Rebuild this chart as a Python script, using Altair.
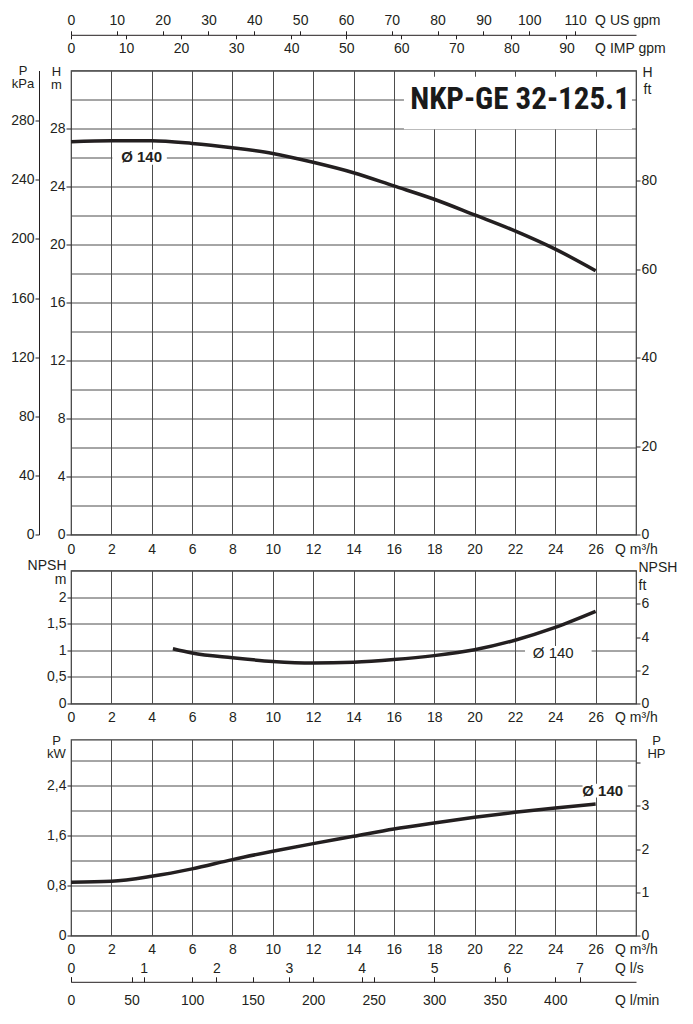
import altair as alt
import pandas as pd

# ---------------- data ----------------
Q_H = [0, 2, 4, 6, 8, 10, 12, 14, 16, 18, 20, 22, 24, 26]
HEAD_M = [27.08, 27.15, 27.15, 26.97, 26.67, 26.28, 25.67, 24.95, 24.04, 23.12, 22.04, 20.94, 19.68, 18.19]

Q_NPSH = [5.05, 6, 8, 10, 12, 14, 16, 18, 20, 22, 24, 26]
NPSH_M = [1.03, 0.95, 0.86, 0.79, 0.76, 0.775, 0.825, 0.90, 1.01, 1.19, 1.43, 1.73]

Q_P = [0, 2, 4, 6, 8, 10, 12, 14, 16, 18, 20, 22, 24, 26]
POWER_KW = [0.853, 0.869, 0.949, 1.067, 1.216, 1.349, 1.472, 1.589, 1.707, 1.803, 1.893, 1.973, 2.043, 2.107]

Q_LABELS = [0, 2, 4, 6, 8, 10, 12, 14, 16, 18, 20, 22, 24, 26]
Q_GRID = [0, 2, 4, 6, 8, 10, 12, 14, 16, 18, 20, 22, 24, 26, 28]
H_LABELS = [0, 4, 8, 12, 16, 20, 24, 28]
H_GRID = [0, 2, 4, 6, 8, 10, 12, 14, 16, 18, 20, 22, 24, 26, 28, 30, 32]
KPA_LABELS = [0, 40, 80, 120, 160, 200, 240, 280]
HFT_LABELS = [0, 20, 40, 60, 80]
NPSH_LABELS = [0, 0.5, 1, 1.5, 2]
NPSH_GRID = [0, 0.5, 1, 1.5, 2, 2.5]
NPSH_FT_LABELS = [0, 2, 4, 6]
KW_LABELS = [0, 0.8, 1.6, 2.4]
KW_GRID = [0, 0.4, 0.8, 1.2, 1.6, 2.0, 2.4, 2.8]
HP_TICKS = [0, 1, 2, 3, 4]
US_GPM = [0, 10, 20, 30, 40, 50, 60, 70, 80, 90, 100, 110]
IMP_GPM = [0, 10, 20, 30, 40, 50, 60, 70, 80, 90]
L_S = [0, 1, 2, 3, 4, 5, 6, 7]
L_MIN = [0, 50, 100, 150, 200, 250, 300, 350, 400]

MODEL = "NKP-GE 32-125.1"
CURVE_LABEL = "Ø 140"

# axis ranges
Q_MAX = 28
H_MAX = 32
KPA_MAX = H_MAX * 9.81
HFT_MAX = H_MAX * 3.281
NPSH_MAX = 2.5
NPSH_FT_MAX = 8.0
KW_MAX = 3.14
HP_MAX = 4.54
US_MAX = Q_MAX / 0.2271
IMP_MAX = Q_MAX / 0.2728
LS_MAX = Q_MAX / 3.6
LMIN_MAX = Q_MAX * 1000 / 60

# annotation boxes (data units)
TITLE_BOX = dict(q1=16.5, q2=27.8, v1=27.95, v2=31.57, q=22.25, v=30.0)
H_LBL = dict(q1=2.05, q2=4.75, v1=25.5, v2=26.55, q=3.5, v=26.05)
N_LBL = dict(q1=22.5, q2=25.8, v1=0.88, v2=1.08, q=23.9, v=0.95)
P_LBL = dict(q1=25.35, q2=27.6, v1=2.21, v2=2.43, q=26.35, v=2.32)

# ---------------- styling ----------------
FONT = "Liberation Sans"
INK = "#231f20"
GRID = "#4d4d4d"
W = 565
H1, H2, H3 = 464, 133, 196


def ax(**kw):
    base = dict(labelFont=FONT, labelFontSize=14, labelColor=INK, titleFont=FONT,
                titleFontSize=14, titleColor=INK, titleFontWeight="normal",
                grid=False, domain=False, ticks=False, tickSize=0, labelPadding=2,
                labelFlush=False, labelOverlap=False, tickColor=INK, domainColor=INK,
                tickWidth=1, domainWidth=1, title=None)
    base.update(kw)
    return alt.Axis(**base)


def grid_axis(orient, values):
    return alt.Axis(orient=orient, values=values, grid=True, gridColor=GRID, gridWidth=1,
                    labels=False, ticks=False, domain=False, title=None)


def sc(hi):
    return alt.Scale(domain=[0, hi], nice=False, zero=False)


def dummy_axis_layer(values, channel, hi, axis, other_hi):
    df = pd.DataFrame({"v": values, "w": [0] * len(values)})
    if channel == "x":
        enc = dict(x=alt.X("v:Q", scale=sc(hi), axis=axis),
                   y=alt.Y("w:Q", scale=sc(other_hi), axis=None))
    else:
        enc = dict(y=alt.Y("v:Q", scale=sc(hi), axis=axis),
                   x=alt.X("w:Q", scale=sc(other_hi), axis=None))
    return alt.Chart(df).mark_point(opacity=0).encode(**enc)


def label_layers(box, vmax, bold, size=15):
    df = pd.DataFrame([dict(box, t=CURVE_LABEL)])
    rect = alt.Chart(df).mark_rect(color="white").encode(
        x=alt.X("q1:Q", scale=sc(Q_MAX), axis=None), x2="q2:Q",
        y=alt.Y("v1:Q", scale=sc(vmax), axis=None), y2="v2:Q")
    txt = alt.Chart(df).mark_text(font=FONT, fontSize=size, color=INK,
                                  fontWeight="bold" if bold else "normal",
                                  align="center", baseline="middle").encode(
        x=alt.X("q:Q", scale=sc(Q_MAX), axis=None),
        y=alt.Y("v:Q", scale=sc(vmax), axis=None), text="t:N")
    return [rect, txt]


def grid_layer(df, vmax, ygrid):
    return alt.Chart(df).mark_line(opacity=0).encode(
        x=alt.X("q:Q", scale=sc(Q_MAX), axis=grid_axis("bottom", Q_GRID)),
        y=alt.Y("v:Q", scale=sc(vmax), axis=grid_axis("left", ygrid)))


def qaxis(pad):
    return ax(orient="bottom", values=Q_LABELS, labelPadding=pad, title="Q m³/h",
              titleX=543.5, titleY=pad, titleAlign="left", titleBaseline="top")


COMMA = "replace(toString(datum.value), '.', ',')"

# ---------------- main H panel ----------------
dfH = pd.DataFrame({"q": Q_H, "v": HEAD_M})
main_layers = [
    grid_layer(dfH, H_MAX, H_GRID),
    alt.Chart(dfH).mark_line(color=INK, strokeWidth=3.5, interpolate="monotone").encode(
        x=alt.X("q:Q", scale=sc(Q_MAX), axis=qaxis(8)),
        y=alt.Y("v:Q", scale=sc(H_MAX), axis=ax(
            orient="left", values=H_LABELS, ticks=True, tickSize=5, labelPadding=1,
            title=["H", "m"], titleAngle=0, titleAlign="center", titleBaseline="alphabetic",
            titleFontSize=13, titleX=-15, titleY=5, titleLineHeight=13))),
    dummy_axis_layer(KPA_LABELS, "y", KPA_MAX, ax(
        orient="left", offset=32, values=KPA_LABELS, domain=True, ticks=True, tickSize=4,
        labelPadding=1, title=["P", "kPa"], titleAngle=0, titleAlign="center",
        titleFontSize=13, titleBaseline="alphabetic", titleX=-16.5, titleY=4,
        titleLineHeight=13), Q_MAX),
    dummy_axis_layer(HFT_LABELS, "y", HFT_MAX, ax(
        orient="right", values=HFT_LABELS, ticks=True, tickSize=4, labelPadding=1,
        title=["H", "ft"], titleAngle=0, titleAlign="center", titleBaseline="alphabetic",
        titleX=11, titleY=6, titleLineHeight=17), Q_MAX),
    dummy_axis_layer(US_GPM, "x", US_MAX, ax(
        orient="top", offset=35.7, values=US_GPM, domain=True, ticks=True, tickSize=4,
        labelPadding=3, title="Q US gpm", titleX=523.6, titleY=-7, titleAlign="left",
        titleBaseline="bottom"), H_MAX),
    dummy_axis_layer(IMP_GPM, "x", IMP_MAX, ax(
        orient="bottom", offset=-(H1 + 35.7), values=IMP_GPM, ticks=True, tickSize=4,
        labelPadding=3, title="Q IMP gpm", titleX=523.6, titleY=7, titleAlign="left",
        titleBaseline="top"), H_MAX),
]
dfT = pd.DataFrame([dict(TITLE_BOX, t=MODEL)])
main_layers += [
    alt.Chart(dfT).mark_rect(color="white").encode(
        x=alt.X("q1:Q", scale=sc(Q_MAX), axis=None), x2="q2:Q",
        y=alt.Y("v1:Q", scale=sc(H_MAX), axis=None), y2="v2:Q"),
    alt.Chart(dfT).mark_text(font="Roboto Condensed, Roboto, sans-serif", fontWeight="bold",
                             fontSize=31, color="#1a1a1a", align="center",
                             baseline="middle").encode(
        x=alt.X("q:Q", scale=sc(Q_MAX), axis=None),
        y=alt.Y("v:Q", scale=sc(H_MAX), axis=None), text="t:N"),
]
main_layers += label_layers(H_LBL, H_MAX, True)
main = alt.layer(*main_layers).resolve_scale(x="independent", y="independent").properties(
    width=W, height=H1)

# ---------------- NPSH panel ----------------
dfN = pd.DataFrame({"q": Q_NPSH, "v": NPSH_M})
npsh_layers = [
    grid_layer(dfN, NPSH_MAX, NPSH_GRID),
    alt.Chart(dfN).mark_line(color=INK, strokeWidth=3.5, interpolate="monotone").encode(
        x=alt.X("q:Q", scale=sc(Q_MAX), axis=qaxis(7)),
        y=alt.Y("v:Q", scale=sc(NPSH_MAX), axis=ax(
            orient="left", values=NPSH_LABELS, ticks=True, tickSize=4, labelPadding=1,
            labelExpr=COMMA, title=["NPSH", "m"], titleAngle=0, titleAlign="right",
            titleBaseline="alphabetic", titleX=-5, titleY=-1, titleLineHeight=14))),
    dummy_axis_layer(NPSH_FT_LABELS, "y", NPSH_FT_MAX, ax(
        orient="right", values=NPSH_FT_LABELS, ticks=True, tickSize=4, labelPadding=1,
        title=["NPSH", "ft"], titleAngle=0, titleAlign="left", titleBaseline="alphabetic",
        titleX=2, titleY=1, titleLineHeight=18), Q_MAX),
]
npsh_layers += label_layers(N_LBL, NPSH_MAX, False)
npsh = alt.layer(*npsh_layers).resolve_scale(x="independent", y="independent").properties(
    width=W, height=H2)

# ---------------- power panel ----------------
dfP = pd.DataFrame({"q": Q_P, "v": POWER_KW})
power_layers = [
    grid_layer(dfP, KW_MAX, KW_GRID),
    alt.Chart(dfP).mark_line(color=INK, strokeWidth=3.5, interpolate="monotone").encode(
        x=alt.X("q:Q", scale=sc(Q_MAX), axis=qaxis(7)),
        y=alt.Y("v:Q", scale=sc(KW_MAX), axis=ax(
            orient="left", values=KW_LABELS, ticks=True, tickSize=4, labelPadding=1,
            labelExpr=COMMA, title=["P", "kW"], titleAngle=0, titleAlign="center",
            titleFontSize=13, titleBaseline="alphabetic", titleX=-15, titleY=5,
            titleLineHeight=13))),
    dummy_axis_layer(HP_TICKS, "y", HP_MAX, ax(
        orient="right", values=HP_TICKS, ticks=True, tickSize=4, labelPadding=1,
        labelExpr="datum.value == 4 ? '' : toString(datum.value)",
        title=["P", "HP"], titleAngle=0, titleAlign="center", titleBaseline="alphabetic",
        titleFontSize=13, titleX=20, titleY=5, titleLineHeight=13), Q_MAX),
    dummy_axis_layer(L_S, "x", LS_MAX, ax(
        orient="top", offset=-242.3, values=L_S, domain=True, ticks=True, tickSize=5,
        labelPadding=1, title="Q l/s", titleX=543.5, titleY=-6, titleAlign="left",
        titleBaseline="bottom"), KW_MAX),
    dummy_axis_layer(L_MIN, "x", LMIN_MAX, ax(
        orient="top", offset=-242.3, values=L_MIN, ticks=True, tickSize=5, labels=False),
        KW_MAX),
    dummy_axis_layer(L_MIN, "x", LMIN_MAX, ax(
        orient="bottom", offset=46.3, values=L_MIN, labelPadding=12, title="Q l/min",
        titleX=543.5, titleY=12, titleAlign="left", titleBaseline="top"), KW_MAX),
]
power_layers += label_layers(P_LBL, KW_MAX, True)
power = alt.layer(*power_layers).resolve_scale(x="independent", y="independent").properties(
    width=W, height=H3)

chart = alt.vconcat(main, npsh, power, spacing=36, bounds="flush").properties(
    padding={"left": 2, "top": 4.5, "right": 2, "bottom": 4}
).configure_view(stroke="#3a3a3a", strokeWidth=1.2)

chart.save("out.html", embed_options={"renderer": "svg", "actions": False})
